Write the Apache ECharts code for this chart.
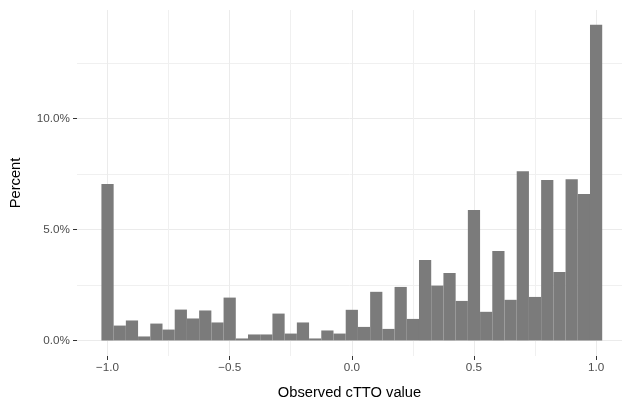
<!DOCTYPE html>
<html><head><meta charset="utf-8">
<script src="https://cdn.jsdelivr.net/npm/echarts@6/dist/echarts.min.js"></script>
<style>html,body{margin:0;padding:0;background:#fff}#c{width:622px;height:405px}</style>
</head><body><div id="c"></div>
<script>
const binCenters = [-1.00,-0.95,-0.90,-0.85,-0.80,-0.75,-0.70,-0.65,-0.60,-0.55,-0.50,-0.45,-0.40,-0.35,-0.30,-0.25,-0.20,-0.15,-0.10,-0.05,0.00,0.05,0.10,0.15,0.20,0.25,0.30,0.35,0.40,0.45,0.50,0.55,0.60,0.65,0.70,0.75,0.80,0.85,0.90,0.95,1.00];
const percentValues = [7.04,0.67,0.90,0.18,0.76,0.49,1.39,0.99,1.35,0.81,1.93,0.09,0.27,0.27,1.21,0.31,0.81,0.09,0.45,0.31,1.38,0.61,2.19,0.52,2.41,0.97,3.62,2.47,3.04,1.78,5.87,1.29,4.03,1.83,7.62,1.96,7.22,3.08,7.26,6.59,14.22];
const binWidth = 0.05;
const xTickValues = [-1.0,-0.5,0.0,0.5,1.0];
const yTickValues = [0,5,10];
const xTitle = 'Observed cTTO value';
const yTitle = 'Percent';

const FONT = '"Liberation Sans", Arial, Helvetica, sans-serif';
const T = 'rgba(0,0,0,0)';
const MAJOR = '#EBEBEB', MINOR = '#F0F0F0';
const xGridColors = [T, MAJOR, T, MINOR];
const yGridColors = [];
for (let i = 0; i < 50; i++) yGridColors.push(i === 7 ? MAJOR : (i === 32 ? MINOR : T));

function fmtX(v){ return (v < 0 ? '\u2212' : '') + Math.abs(v).toFixed(1); }
function fmtY(v){ return v.toFixed(1) + '%'; }

const X_MIN = -1.125, X_MAX = 1.106, Y_MIN = -0.7, Y_MAX = 14.88;

const chart = echarts.init(document.getElementById('c'), null, {renderer:'canvas'});
chart.setOption({
  animation: false,
  backgroundColor: '#fff',
  grid: {left: 74, top: 10, right: 0, height: 347, containLabel: false},
  xAxis: [
    {type:'value', min:X_MIN, max:X_MAX, interval:0.125, position:'bottom',
     axisLine:{show:false, onZero:false}, axisTick:{show:false}, axisLabel:{show:false},
     splitLine:{show:true, showMaxLine:false, lineStyle:{color:xGridColors, width:1}}},
    {type:'value', min:X_MIN, max:X_MAX, position:'bottom', gridIndex:0,
     axisLine:{show:false, onZero:false},
     axisTick:{show:true, customValues:xTickValues, length:4, inside:false, lineStyle:{color:'#333', width:1}},
     axisLabel:{show:true, customValues:xTickValues, formatter:fmtX, margin:6, color:'#4D4D4D', fontSize:11.7, fontFamily:FONT},
     splitLine:{show:false},
     name:xTitle, nameLocation:'middle', nameGap:29,
     nameTextStyle:{color:'#000', fontSize:14.7, fontFamily:FONT}}
  ],
  yAxis: [
    {type:'value', min:Y_MIN, max:Y_MAX, interval:0.1, position:'left',
     axisLine:{show:false, onZero:false}, axisTick:{show:false}, axisLabel:{show:false},
     splitLine:{show:true, showMaxLine:false, lineStyle:{color:yGridColors, width:1}}},
    {type:'value', min:Y_MIN, max:Y_MAX, position:'left', gridIndex:0,
     axisLine:{show:false, onZero:false},
     axisTick:{show:true, customValues:yTickValues, length:4, inside:false, lineStyle:{color:'#333', width:1}},
     axisLabel:{show:true, customValues:yTickValues, formatter:fmtY, margin:7, color:'#4D4D4D', fontSize:11.7, fontFamily:FONT},
     splitLine:{show:false},
     name:yTitle, nameLocation:'middle', nameGap:54, nameRotate:90,
     nameTextStyle:{color:'#000', fontSize:14.7, fontFamily:FONT}}
  ],
  series: [{
    type:'custom', xAxisIndex:0, yAxisIndex:0, z:3,
    encode:{x:0, y:1},
    data: binCenters.map((c,i)=>[c, percentValues[i]]),
    renderItem: function(params, api){
      const x = api.value(0), v = api.value(1);
      const p0 = api.coord([x - binWidth/2, v]);
      const p1 = api.coord([x + binWidth/2, 0]);
      return {type:'rect', shape:{x:p0[0], y:p0[1], width:p1[0]-p0[0], height:p1[1]-p0[1]}, style:{fill:'#7b7b7b'}};
    }
  }]
});
</script></body></html>
